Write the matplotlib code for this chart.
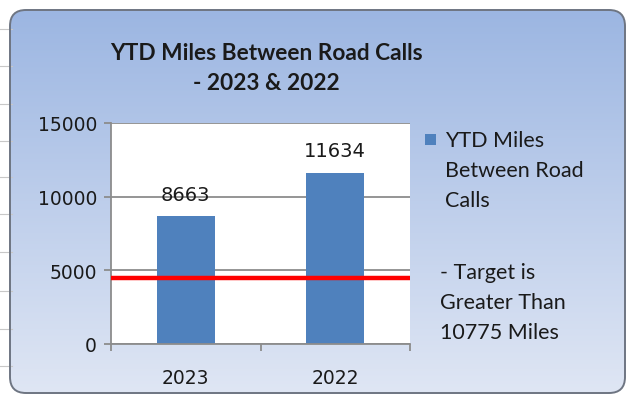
import matplotlib
matplotlib.use("Agg")
import matplotlib.pyplot as plt
import numpy as np
from matplotlib.patches import FancyBboxPatch, Rectangle

categories = ["2023", "2022"]
values = [8663, 11634]
target_line = 4500
title_line1 = "YTD Miles Between Road Calls"
title_line2 = "- 2023 & 2022"
legend_series = ["YTD Miles", "Between Road", "Calls"]
legend_note = ["- Target is", "Greater Than", "10775 Miles"]
yticks = [0, 5000, 10000, 15000]

W, H = 626, 402
fig = plt.figure(figsize=(W / 100, H / 100), dpi=100)
fig.patch.set_facecolor("white")

bg = fig.add_axes([0, 0, 1, 1])
bg.axis("off")

for y in [30, 67, 105, 142, 178, 215, 253, 292, 330, 367]:
    bg.plot([0, 12], [y, y], color="#c8c8c8", lw=0.8)

x0, y0, x1, y1 = 10, 11, 625, 394
box = FancyBboxPatch((x0, y0), x1 - x0, y1 - y0,
                     boxstyle="round,pad=0,rounding_size=16",
                     facecolor="none", edgecolor="#6e7582", lw=1.4, zorder=3)
bg.add_patch(box)
top = np.array([0x9c, 0xb6, 0xe2]) / 255
bot = np.array([0xdf, 0xe6, 0xf4]) / 255
t = np.linspace(0, 1, 256)[:, None]
grad = (top[None, :] * (1 - t) + bot[None, :] * t)[:, None, :]
im = bg.imshow(grad, extent=[x0, x1, y1, y0], aspect="auto", zorder=1)
clip = FancyBboxPatch((x0, y0), x1 - x0, y1 - y0,
                      boxstyle="round,pad=0,rounding_size=16",
                      transform=bg.transData)
im.set_clip_path(clip)
bg.set_xlim(0, W)
bg.set_ylim(H, 0)

bg.text(266, 54, title_line1, ha="center", va="center",
        fontsize=16.3, fontweight="bold", family="Lato", color="#1a1a1a", zorder=4)
bg.text(266, 83, title_line2, ha="center", va="center",
        fontsize=16.3, fontweight="bold", family="Lato", color="#1a1a1a", zorder=4)

ax = fig.add_axes([111 / W, 1 - 345 / H, (410 - 111) / W, (345 - 124) / H])
ax.set_facecolor("white")
x = np.arange(len(categories))
ax.bar(x, values, width=0.39, color="#4f81bd", zorder=2)
ax.axhline(target_line, color="#ff0000", lw=3.2, zorder=3)
ax.set_xlim(-0.5, len(categories) - 0.5)
ax.set_ylim(0, 15000)
ax.set_yticks(yticks)
ax.set_yticklabels([str(v) for v in yticks], fontsize=13.5, family="DejaVu Sans", color="#1a1a1a")
ax.yaxis.grid(True, color="#8c8c8c", lw=1.3, zorder=1)
ax.set_axisbelow(True)
ax.set_xticks(x)
ax.set_xticklabels(categories, fontsize=13.5, family="DejaVu Sans", color="#1a1a1a")
ax.tick_params(axis="x", length=0, pad=17)
ax.tick_params(axis="y", length=5, color="#8c8c8c", width=1.3, pad=5)
ax.set_xticks([-0.5, 0.5, 1.5], minor=True)
ax.tick_params(axis="x", which="minor", length=5, color="#8c8c8c", width=1.3)
for s in ["top", "right"]:
    ax.spines[s].set_visible(False)
for s in ["left", "bottom"]:
    ax.spines[s].set_color("#8c8c8c")
    ax.spines[s].set_linewidth(1.3)

for xi, v in zip(x, values):
    ax.annotate(str(v), (xi, v), xytext=(0, 9), textcoords="offset points",
                ha="center", va="bottom", fontsize=14, family="DejaVu Sans",
                color="#1a1a1a", zorder=4)

bg.add_patch(Rectangle((425, 135), 11, 11, facecolor="#4f81bd", edgecolor="none", zorder=4))
for i, line in enumerate(legend_series):
    bg.text(445, 141 + 30 * i, line, ha="left", va="center", fontsize=15.5,
            family="Lato", color="#1a1a1a", zorder=4)
for i, line in enumerate(legend_note):
    bg.text(440, 273 + 30 * i, line, ha="left", va="center", fontsize=15.5,
            family="Lato", color="#1a1a1a", zorder=4)

fig.savefig("out.png", dpi=100)
